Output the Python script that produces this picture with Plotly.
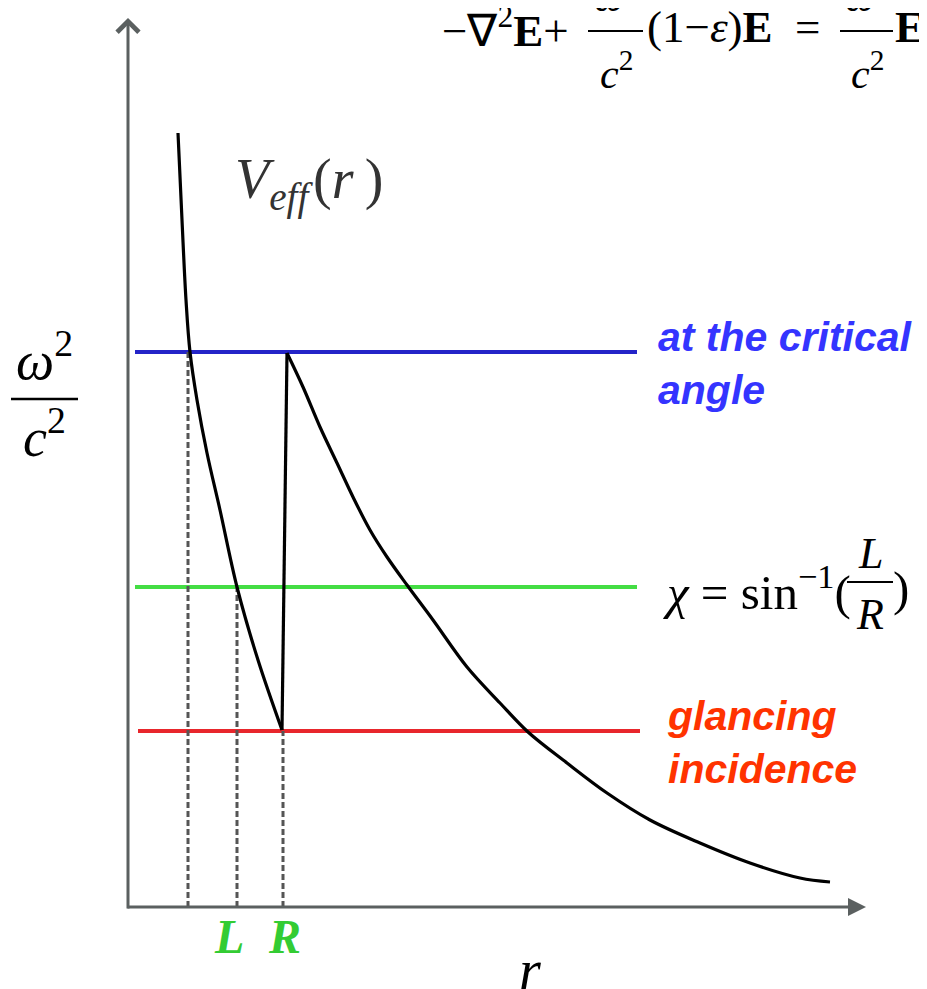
"""
Diagrama de potencial efectivo V_eff(r) con los niveles de energía
(ángulo crítico, sin^-1(L/R) e incidencia rasante)
"""
import plotly.graph_objects as go

# esquina de los ejes, en pixeles de la imagen
X0, Y0 = 128, 907
ANCHO, ALTO = 927, 989
BODY = 8  # margen por defecto del <body> en la página

# V_eff(r): rama interna (cae hasta el salto en r = R)
r_interna = [50, 54, 58, 62, 69, 79, 92, 109, 130, 154]
v_interna = [774, 687, 607, 555, 507, 454, 397, 320, 247, 177]

# rama externa, después del salto
r_externa = [159, 175, 192, 209, 225, 242, 259, 279, 305, 339, 372, 400,
             439, 479, 522, 572, 622, 672, 702]
v_externa = [554, 520, 480, 444, 410, 377, 350, 322, 287, 240, 204, 175,
             144, 114, 87, 64, 44, 29, 25]

# niveles omega^2/c^2
nivel_v = [555, 320, 176]
nivel_r0 = [7, 7, 10]
nivel_r1 = [509, 509, 512]
nivel_color = ['#2424c8', '#44dd44', '#e8262c']

# puntos de retorno (líneas punteadas)
giro_r = [60, 109, 155]
giro_v = [555, 320, 176]

SERIF = 'Liberation Serif'
SANS = 'Liberation Sans'


def X(p):
    return p - X0


def Y(p):
    return Y0 - p


def texto(px, py, s, size, color='black', family=SERIF,
          xanchor='left', yanchor='middle'):
    return dict(x=X(px), y=Y(py), xref='x', yref='y', text=s,
                showarrow=False, xanchor=xanchor, yanchor=yanchor,
                align='left', font=dict(size=size, color=color, family=family))


def barra(x0, x1, py, width=2):
    return dict(type='line', xref='x', yref='y', x0=X(x0), x1=X(x1),
                y0=Y(py), y1=Y(py), line=dict(color='black', width=width))


fig = go.Figure()

# niveles horizontales
for v, a, b, c in zip(nivel_v, nivel_r0, nivel_r1, nivel_color):
    fig.add_trace(go.Scatter(x=[a, b], y=[v, v], mode='lines',
                             line=dict(color=c, width=4), hoverinfo='skip'))

# líneas punteadas hasta el eje r
for r, v in zip(giro_r, giro_v):
    fig.add_trace(go.Scatter(x=[r, r], y=[0, v], mode='lines',
                             line=dict(color='#555555', width=3, dash='6px,3px'),
                             hoverinfo='skip'))

# curva del potencial
fig.add_trace(go.Scatter(x=r_interna, y=v_interna, mode='lines',
                         line=dict(color='black', width=3.2, shape='spline'),
                         hoverinfo='skip'))
fig.add_trace(go.Scatter(x=[r_interna[-1], r_externa[0]],
                         y=[v_interna[-1], v_externa[0]], mode='lines',
                         line=dict(color='black', width=3.2), hoverinfo='skip'))
fig.add_trace(go.Scatter(x=r_externa, y=v_externa, mode='lines',
                         line=dict(color='black', width=3.2, shape='spline'),
                         hoverinfo='skip'))

anotaciones = [
    # ejes con flecha
    dict(x=0, y=Y(18), ax=0, ay=Y(910), xref='x', yref='y', axref='x', ayref='y',
         text='', showarrow=True, arrowhead=4, arrowsize=1.4, arrowwidth=3,
         arrowcolor='#5b6060', standoff=0),
    dict(x=X(866), y=0, ax=X(126), ay=0, xref='x', yref='y', axref='x', ayref='y',
         text='', showarrow=True, arrowhead=2, arrowsize=1.2, arrowwidth=3,
         arrowcolor='#5b6060', standoff=0),

    # ecuación superior (cortada arriba)
    texto(440, 27, '−∇<sup>2</sup><b>E</b>+', 45),
    texto(616, 22, '<i>ω</i><sup>2</sup>', 42, xanchor='center', yanchor='bottom'),
    texto(616, 70, '<i>c</i><sup>2</sup>', 42, xanchor='center'),
    texto(645, 27, '(1−<i>ε</i>)<b>E</b>', 45),
    texto(793, 27, '=', 45),
    texto(867, 22, '<i>ω</i><sup>2</sup>', 42, xanchor='center', yanchor='bottom'),
    texto(867, 70, '<i>c</i><sup>2</sup>', 42, xanchor='center'),
    texto(893, 27, '<b>E</b>', 45),

    # eje vertical
    texto(44, 356, '<i>ω</i><sup>2</sup>', 54, xanchor='center'),
    texto(44, 433, '<i>c</i><sup>2</sup>', 54, xanchor='center'),

    # V_eff(r)
    texto(233, 183, '<i>V</i><sub><i>eff</i></sub>\u200a(<i>r</i>\u2009)', 56,
          color='#333333'),

    # etiquetas de niveles
    texto(656, 363, '<b><i>at the critical<br>angle</i></b>', 41,
          color='#3434ff', family=SANS),
    texto(665, 742, '<b><i>glancing<br>incidence</i></b>', 41,
          color='#ff3300', family=SANS),

    # chi = sin^-1(L/R)
    texto(661, 588, '<i>χ</i> = sin<sup>−1</sup>(', 49),
    texto(870, 553, '<i>L</i>', 44, xanchor='center'),
    texto(870, 614, '<i>R</i>', 44, xanchor='center'),
    texto(891, 588, ')', 49),

    # L, R y r en el eje horizontal
    texto(229, 936, '<b><i>L</i></b>', 48, color='#33cc33', xanchor='center'),
    texto(284, 936, '<b><i>R</i></b>', 48, color='#33cc33', xanchor='center'),
    texto(530, 970, '<i>r</i>', 56, xanchor='center'),
]

fig.update_layout(
    width=ANCHO,
    height=ALTO,
    showlegend=False,
    paper_bgcolor='white',
    plot_bgcolor='white',
    margin=dict(l=0, r=0, t=0, b=0),
    # la figura queda desplazada BODY px por el margen de la página
    xaxis=dict(range=[X(BODY), X(BODY + ANCHO)], visible=False, fixedrange=True),
    yaxis=dict(range=[Y(BODY + ALTO), Y(BODY)], visible=False, fixedrange=True),
    annotations=anotaciones,
    shapes=[
        barra(588, 643, 31),
        barra(840, 893, 31),
        barra(11, 78, 399, 2.5),
        barra(847, 893, 582),
    ],
)

fig.write_html("out.html")
